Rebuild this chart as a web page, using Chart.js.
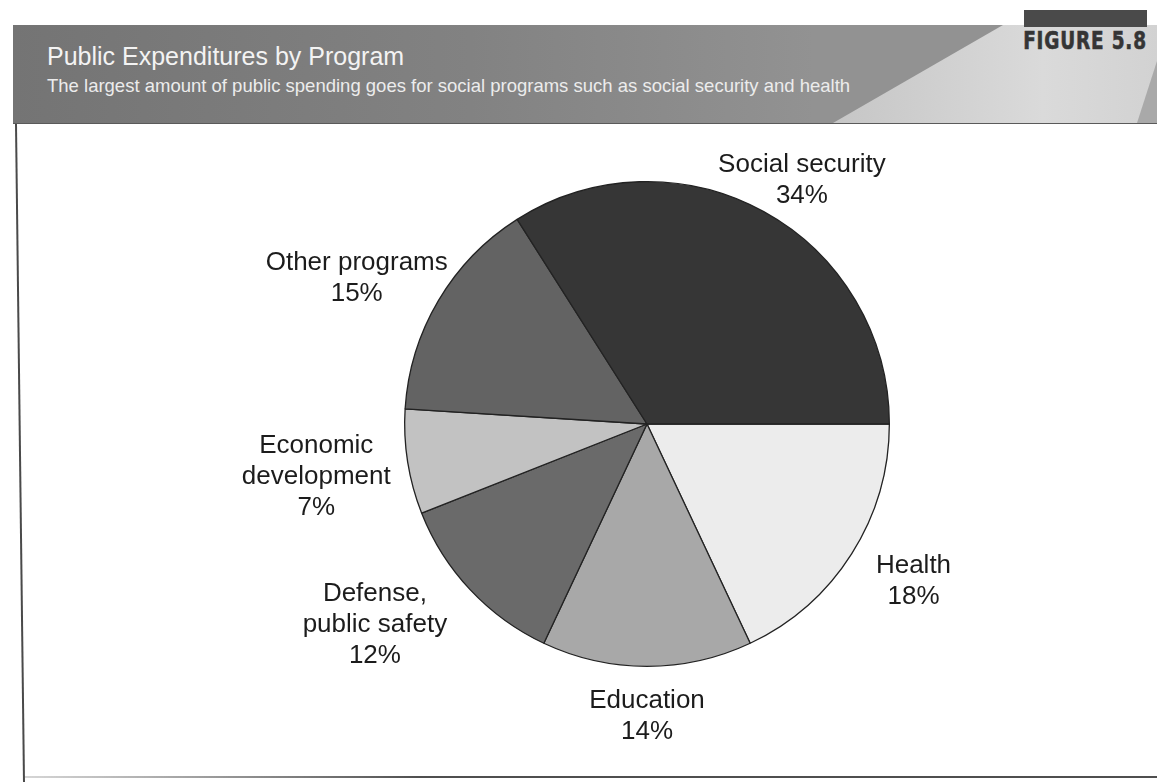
<!DOCTYPE html>
<html>
<head>
<meta charset="utf-8">
<title>Public Expenditures by Program</title>
<script src="https://cdn.jsdelivr.net/npm/chart.js@4.4.0/dist/chart.umd.min.js"></script>
<style>
  html, body { margin: 0; padding: 0; background: #fff; }
  #page { position: relative; width: 1157px; height: 782px; overflow: hidden; font-family: "Liberation Sans", Arial, sans-serif; }
  #chart { position: absolute; left: 0; top: 0; }
  .band {
    position: absolute; left: 13px; top: 25px; width: 1144px; height: 98px;
    background: linear-gradient(90deg, #747474 0%, #828282 40%, #929292 70%);
    border-bottom: 1px solid #5a5a5a;
  }
  .band .light {
    position: absolute; left: 0; top: 0; width: 100%; height: 100%;
    background: linear-gradient(90deg, #c4c4c4 70%, #dadada 90%, #d2d2d2 100%);
    clip-path: polygon(820px 98px, 990px 0, 1144px 0, 1144px 98px);
  }
  .band .edge {
    position: absolute; left: 0; top: 0; width: 100%; height: 100%;
    background: #a9a9a9;
    clip-path: polygon(1124px 98px, 1144px 36px, 1144px 98px);
  }
  .title { position: absolute; left: 47px; top: 44px; font-size: 25px; line-height: 25px; color: #f3f3f3; white-space: nowrap; }
  .subtitle { position: absolute; left: 47px; top: 77px; font-size: 18.5px; line-height: 18px; color: #ececec; white-space: nowrap; }
  .figbar { position: absolute; left: 1024px; top: 10px; width: 123px; height: 17px; background: #4a4a4a; }
  .fignum {
    position: absolute; right: 10px; top: 28px; font-family: "DejaVu Sans Condensed", "Liberation Sans Narrow", sans-serif;
    font-weight: bold; font-size: 25px; line-height: 25px; letter-spacing: 1px; color: #353535; white-space: nowrap;
    transform: scaleX(0.82); transform-origin: right center;
    -webkit-text-stroke: 0.6px #353535;
  }
</style>
</head>
<body>
<div id="page">
  <div class="band"><div class="light"></div><div class="edge"></div></div>
  <div class="title">Public Expenditures by Program</div>
  <div class="subtitle">The largest amount of public spending goes for social programs such as social security and health</div>
  <div class="figbar"></div>
  <div class="fignum">FIGURE 5.8</div>
  <canvas id="chart" width="1157" height="782"></canvas>
</div>
<script>
// shares of public spending, clockwise from 3 o'clock
const categories = [
  'Health',
  'Education',
  ['Defense,', 'public safety'],
  ['Economic', 'development'],
  'Other programs',
  'Social security'
];
const shares = [18, 14, 12, 7, 15, 34];
const sliceColors = ['#ececec', '#a8a8a8', '#6a6a6a', '#c2c2c2', '#636363', '#363636'];

// name + percent written outside each slice
const outerLabels = {
  id: 'outerLabels',
  afterDatasetsDraw(chart, args, opts) {
    const ctx = chart.ctx;
    const meta = chart.getDatasetMeta(0);
    ctx.save();
    ctx.font = opts.font;
    ctx.fillStyle = opts.color;
    ctx.textAlign = 'center';
    ctx.textBaseline = 'middle';
    meta.data.forEach((arc, i) => {
      const p = arc.getProps(['x', 'y', 'startAngle', 'endAngle', 'outerRadius'], true);
      const mid = (p.startAngle + p.endAngle) / 2;
      const cos = Math.cos(mid), sin = Math.sin(mid);
      const lines = [].concat(chart.data.labels[i], chart.data.datasets[0].data[i] + '%');
      const w = Math.max(...lines.map(l => ctx.measureText(l).width));
      const h = lines.length * opts.lineHeight;
      const r = p.outerRadius + opts.pad;
      const n = opts.nudge[i] || [0, 0];
      const cx = p.x + cos * (r + w / 2) + n[0];
      const cy = p.y + sin * (r + h / 2) + n[1];
      lines.forEach((l, k) => ctx.fillText(l, cx, cy - h / 2 + opts.lineHeight * (k + 0.5)));
    });
    ctx.restore();
  }
};

// left rule and bottom rule of the figure box
const pageFrame = {
  id: 'pageFrame',
  beforeDraw(chart) {
    const ctx = chart.ctx;
    ctx.save();
    ctx.strokeStyle = '#4a4a4a';
    ctx.lineWidth = 2;
    ctx.beginPath();
    ctx.moveTo(16, 124);
    ctx.lineTo(24, 782);
    ctx.stroke();
    const g = ctx.createLinearGradient(24, 0, 420, 0);
    g.addColorStop(0, 'rgba(90,90,90,0.25)');
    g.addColorStop(1, 'rgba(60,60,60,0.9)');
    ctx.strokeStyle = g;
    ctx.beginPath();
    ctx.moveTo(24, 777);
    ctx.lineTo(1157, 777);
    ctx.stroke();
    ctx.restore();
  }
};

new Chart(document.getElementById('chart'), {
  type: 'pie',
  data: {
    labels: categories,
    datasets: [{
      data: shares,
      backgroundColor: sliceColors,
      borderColor: '#222',
      borderWidth: 1.3,
      hoverOffset: 0
    }]
  },
  options: {
    responsive: false,
    animation: false,
    rotation: 90,
    layout: { padding: { left: 404, right: 267, top: 181, bottom: 115 } },
    plugins: {
      legend: { display: false },
      tooltip: { enabled: false },
      outerLabels: {
        font: '26px "Liberation Sans", Arial, sans-serif',
        color: '#1c1c1c',
        lineHeight: 31,
        pad: 12,
        nudge: [[20, 4], [0, 7], [-34, -5], [-6, 6], [7, 0], [-8, 6]]
      }
    }
  },
  plugins: [pageFrame, outerLabels]
});
</script>
</body>
</html>
